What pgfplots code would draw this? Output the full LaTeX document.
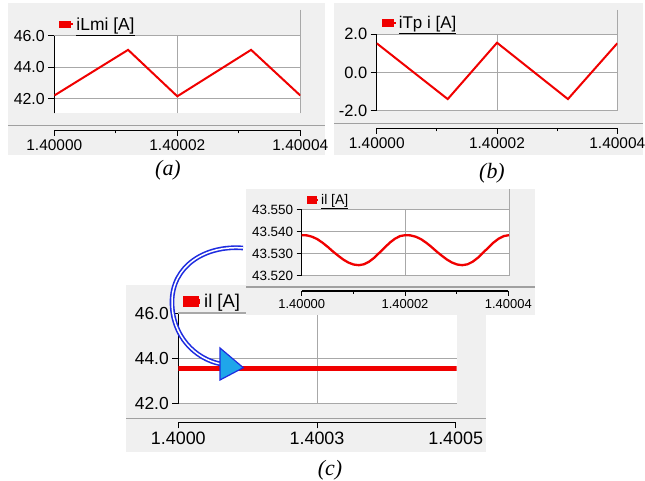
\documentclass[border=0pt]{standalone}
\usepackage{fontspec}
\setmainfont{Liberation Sans}
\newfontfamily\capfont{Liberation Serif}
\usepackage{pgfplots}
\pgfplotsset{compat=1.18}
\definecolor{panelbg}{HTML}{F0F0F0}
\definecolor{gridc}{HTML}{A8A8A8}
\definecolor{sepc}{HTML}{A0A0A0}
\definecolor{arrowblue}{HTML}{1E2CE0}
\definecolor{arrowcyan}{HTML}{1FA6EA}
\definecolor{curvered}{HTML}{F00000}

\pgfplotsset{
  plotbox/.style={
    scale only axis,
    axis background/.style={fill=white},
    axis y line*=left, axis x line*=bottom,
    x axis line style={draw=none},
    y axis line style={black, line width=1.1bp},
    xtick style={draw=none}, xticklabels={},
    ytick align=outside,
    ytick style={black, line width=1bp},
    major tick length=6bp,
    xmajorgrids, ymajorgrids,
    grid style={gridc, line width=1bp},
    legend style={draw=none, fill=none, at={(0,1)}, anchor=south west},
    legend image code/.code={\fill[curvered] (0bp,-2.8bp) rectangle (10bp,2.8bp); \path (0bp,0bp) -- (13bp,0bp);},
  },
  xstrip/.style={
    scale only axis, height=2bp, ymin=0, ymax=1,
    axis x line*=bottom, axis y line=none,
    x axis line style={black, line width=1.1bp},
    xtick align=outside,
    xtick style={black, line width=1bp},
    major tick length=5.5bp, minor tick length=3bp,
  },
}

\begin{document}
\begin{tikzpicture}[x=1bp,y=1bp]
\path[use as bounding box] (0,0) rectangle (645,481);

% ---------------- panel (a) ----------------
\fill[panelbg] (8,326) rectangle (325,478);
\draw[gridc, line width=1bp] (300.3,471) -- (300.3,445.3);
\begin{axis}[plotbox, at={(54.3bp,367.7bp)}, anchor=south west, width=246bp, height=77.6bp,
  xmin=0, xmax=4, ymin=41.07, ymax=46, xtick={0,2,4}, ytick={42,44,46},
  yticklabels={42.0,44.0,46.0},
  yticklabel style={font=\fontsize{16}{16}\selectfont},
  legend style={font=\fontsize{17.5}{18}\selectfont, xshift=2bp}]
\addplot[curvered, line width=2bp] coordinates {(0,42.2) (1.2,45.1) (2,42.15) (3.2,45.1) (4,42.2)};
\addlegendentry{\underline{iLmi [A]}}
\end{axis}
\draw[sepc, line width=1.5bp] (8,355.5) -- (325,355.5);
\begin{axis}[xstrip, at={(54.3bp,350.5bp)}, anchor=south west, width=246bp,
  xmin=0, xmax=4, xtick={0,2,4}, xticklabels={1.40000,1.40002,1.40004}, minor x tick num=1,
  xticklabel style={font=\fontsize{15.5}{16}\selectfont}]
\end{axis}
\node[font=\capfont\itshape\fontsize{22}{22}\selectfont] at (168,311) {(a)};

% ---------------- panel (b) ----------------
\fill[panelbg] (334,326) rectangle (643,478);
\draw[gridc, line width=1bp] (617.3,471) -- (617.3,446.7);
\begin{axis}[plotbox, at={(376.7bp,370bp)}, anchor=south west, width=240.6bp, height=76.7bp,
  xmin=0, xmax=4, ymin=-2, ymax=2, xtick={0,2,4}, ytick={-2,0,2},
  yticklabels={-2.0,0.0,2.0},
  yticklabel style={font=\fontsize{16.5}{16}\selectfont},
  legend style={font=\fontsize{17}{18}\selectfont, xshift=2bp}]
\addplot[curvered, line width=2bp] coordinates {(0,1.53) (1.18,-1.38) (1.3,-0.95) (2,1.56) (3.18,-1.38) (3.3,-0.95) (4,1.53)};
\addlegendentry{\underline{iTp i [A]}}
\end{axis}
\draw[sepc, line width=1.5bp] (334,357.5) -- (643,357.5);
\begin{axis}[xstrip, at={(376.7bp,352.5bp)}, anchor=south west, width=240.6bp,
  xmin=0, xmax=4, xtick={0,2,4}, xticklabels={1.40000,1.40002,1.40004}, minor x tick num=1,
  xticklabel style={font=\fontsize{15.5}{16}\selectfont}]
\end{axis}
\node[font=\capfont\itshape\fontsize{22}{22}\selectfont] at (492,308) {(b)};

% ---------------- panel (c) main ----------------
\fill[panelbg] (126,29) rectangle (486,196);
\begin{axis}[plotbox, at={(178.3bp,77bp)}, anchor=south west, width=278.4bp, height=90.7bp,
  xmin=0, xmax=5, ymin=42, ymax=46, xtick={2.5}, ytick={42,44,46},
  yticklabels={42.0,44.0,46.0},
  yticklabel style={font=\fontsize{17.5}{18}\selectfont},
  legend style={font=\fontsize{18.5}{20}\selectfont, xshift=2bp},
  legend image code/.code={\fill[curvered] (0bp,-3.3bp) rectangle (11bp,3.3bp); \path (0bp,0bp) -- (14bp,0bp);}]
\addplot[curvered, line width=4.7bp] coordinates {(0,43.57) (1,43.57) (2,43.57) (3,43.57) (4,43.57) (5,43.57)};
\addlegendentry{\underline{il [A]}}
\end{axis}
\draw[gridc, line width=1.5bp] (178.3,168) -- (246.7,168);
\draw[sepc, line width=1.5bp] (126,62.7) -- (486,62.7);
\begin{axis}[xstrip, at={(178.3bp,58.3bp)}, anchor=south west, width=277.4bp,
  xmin=0, xmax=5, xtick={0,2.5,5}, xticklabels={1.4000,1.4003,1.4005},
  major tick length=5.7bp,
  xticklabel style={font=\fontsize{18}{18}\selectfont}]
\end{axis}
\node[font=\capfont\itshape\fontsize{22}{22}\selectfont] at (330,11) {(c)};

% ---------------- panel (c) inset ----------------
\fill[panelbg] (246,166) rectangle (535,292);
\draw[gridc, line width=1bp] (509,292) -- (509,271);
\begin{axis}[plotbox, at={(301.7bp,205.3bp)}, anchor=south west, width=207.3bp, height=65.7bp,
  xmin=0, xmax=4, ymin=43.52, ymax=43.55, xtick={0,2,4}, ytick={43.52,43.53,43.54,43.55},
  yticklabels={43.520,43.530,43.540,43.550},
  major tick length=5bp,
  yticklabel style={font=\fontsize{13.5}{14}\selectfont},
  legend style={font=\fontsize{14}{15}\selectfont, xshift=2bp},
  legend image code/.code={\fill[curvered] (0bp,-2.5bp) rectangle (8bp,2.5bp); \path (0bp,0bp) -- (10bp,0bp);}]
\addplot[curvered, line width=2.3bp] coordinates {
 (0,43.5385) (0.1,43.5384) (0.2,43.5378) (0.3,43.5367) (0.4,43.5351) (0.5,43.5332)
 (0.6,43.5311) (0.7,43.5292) (0.8,43.5274) (0.9,43.5260) (1.0,43.5251) (1.1,43.5248)
 (1.2,43.5252) (1.3,43.5264) (1.4,43.5282) (1.5,43.5305) (1.6,43.5328) (1.7,43.5351)
 (1.8,43.5369) (1.9,43.5381) (2.0,43.5385)
 (2.1,43.5384) (2.2,43.5378) (2.3,43.5367) (2.4,43.5351) (2.5,43.5332)
 (2.6,43.5311) (2.7,43.5292) (2.8,43.5274) (2.9,43.5260) (3.0,43.5251) (3.1,43.5248)
 (3.2,43.5252) (3.3,43.5264) (3.4,43.5282) (3.5,43.5305) (3.6,43.5328) (3.7,43.5351)
 (3.8,43.5369) (3.9,43.5381) (4.0,43.5385)};
\addlegendentry{\underline{il [A]}}
\end{axis}
\draw[sepc, line width=1.5bp] (246,194) -- (535,194);
\begin{axis}[xstrip, at={(301.7bp,190bp)}, anchor=south west, width=206.6bp,
  xmin=0, xmax=4, xtick={0,2,4}, xticklabels={1.40000,1.40002,1.40004}, minor x tick num=1,
  major tick length=5bp, minor tick length=3bp,
  xticklabel style={font=\fontsize{13}{13}\selectfont}]
\end{axis}

% ---------------- arrow ----------------
\draw[arrowblue, line width=1.6bp, double=white, double distance=1.5bp]
  (243,233) .. controls (205,236) and (172,215) .. (172,179)
  .. controls (172,145) and (195,122) .. (221,117);
\filldraw[fill=arrowcyan, draw=arrowblue, line width=1.2bp]
  (220,133) -- (243.3,113.3) -- (220,101) -- cycle;
\end{tikzpicture}
\end{document}
